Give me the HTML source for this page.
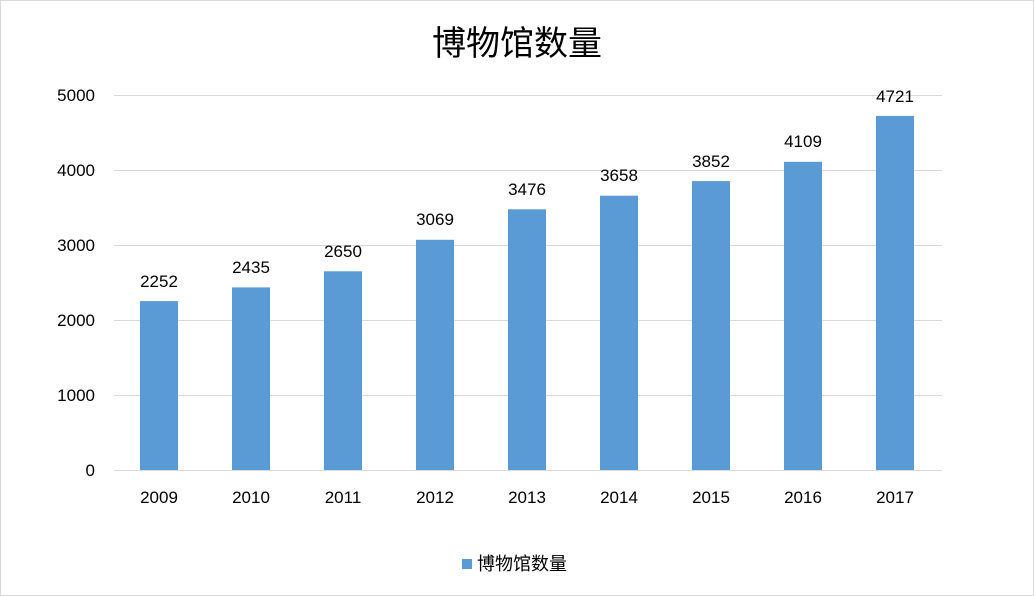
<!DOCTYPE html>
<html><head><meta charset="utf-8"><style>
html,body{margin:0;padding:0;background:#fff;}
svg{display:block;}
</style></head><body>
<svg width="1034" height="596" xmlns="http://www.w3.org/2000/svg" font-family="Liberation Sans, 'Noto Sans CJK SC', sans-serif">
<rect x="0.5" y="0.5" width="1033" height="595" fill="#fff" stroke="#d9d9d9"/>
<text x="517" y="55" text-anchor="middle" font-size="34" fill="#000" font-family="'Noto Sans CJK SC', sans-serif">博物馆数量</text>
<g stroke="#d9d9d9" stroke-width="1">
<line x1="114" y1="95.5" x2="942" y2="95.5"/>
<line x1="114" y1="170.5" x2="942" y2="170.5"/>
<line x1="114" y1="245.5" x2="942" y2="245.5"/>
<line x1="114" y1="320.5" x2="942" y2="320.5"/>
<line x1="114" y1="395.5" x2="942" y2="395.5"/>
<line x1="114" y1="470.5" x2="942" y2="470.5"/>
</g>
<g font-size="17" fill="#000" text-anchor="end">
<text x="95" y="101">5000</text>
<text x="95" y="176">4000</text>
<text x="95" y="251">3000</text>
<text x="95" y="326">2000</text>
<text x="95" y="401">1000</text>
<text x="95" y="476">0</text>
</g>
<g fill="#5b9bd5">
<rect x="140" y="301.1" width="38" height="168.9"/>
<rect x="232" y="287.4" width="38" height="182.6"/>
<rect x="324" y="271.3" width="38" height="198.7"/>
<rect x="416" y="239.8" width="38" height="230.2"/>
<rect x="508" y="209.3" width="38" height="260.7"/>
<rect x="600" y="195.7" width="38" height="274.3"/>
<rect x="692" y="181.1" width="38" height="288.9"/>
<rect x="784" y="161.8" width="38" height="308.2"/>
<rect x="876" y="115.9" width="38" height="354.1"/>
</g>
<g font-size="17" fill="#000" text-anchor="middle">
<text x="159" y="287">2252</text>
<text x="251" y="273">2435</text>
<text x="343" y="257">2650</text>
<text x="435" y="225">3069</text>
<text x="527" y="195">3476</text>
<text x="619" y="181">3658</text>
<text x="711" y="167">3852</text>
<text x="803" y="147">4109</text>
<text x="895" y="102">4721</text>
<text x="159" y="503">2009</text>
<text x="251" y="503">2010</text>
<text x="343" y="503">2011</text>
<text x="435" y="503">2012</text>
<text x="527" y="503">2013</text>
<text x="619" y="503">2014</text>
<text x="711" y="503">2015</text>
<text x="803" y="503">2016</text>
<text x="895" y="503">2017</text>
</g>
<rect x="462" y="559" width="10" height="10" fill="#5b9bd5"/>
<text x="477" y="570" font-size="18" fill="#000" font-family="'Noto Sans CJK SC', sans-serif">博物馆数量</text>
</svg>
</body></html>
